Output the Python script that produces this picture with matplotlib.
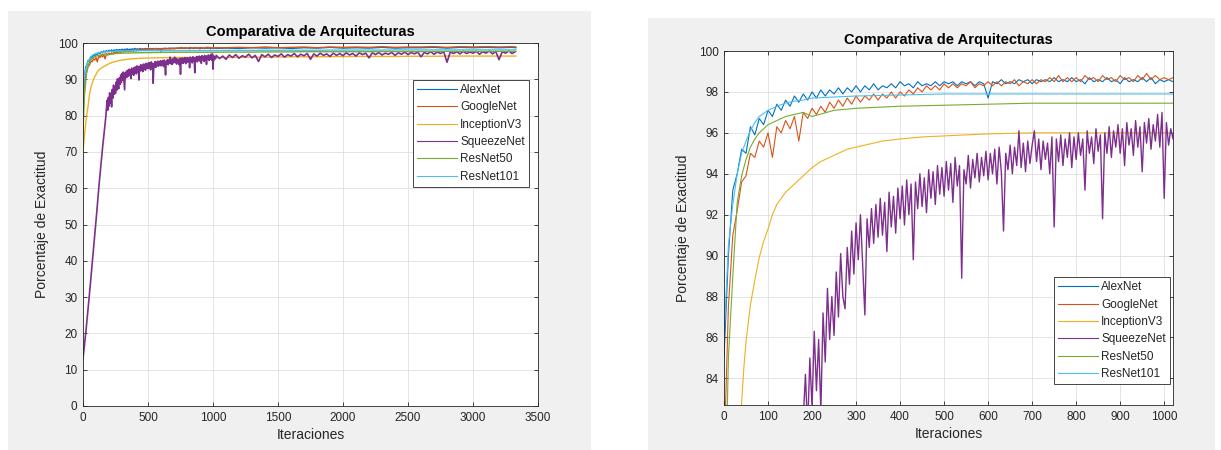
import matplotlib.pyplot as plt
from matplotlib.patches import Rectangle

plt.rcParams["font.family"] = ["Liberation Sans", "DejaVu Sans"]

TITLE = "Comparativa de Arquitecturas"
X_LABEL = "Iteraciones"
Y_LABEL = "Porcentaje de Exactitud"

NAMES = ["AlexNet", "GoogleNet", "InceptionV3", "SqueezeNet", "ResNet50", "ResNet101"]
COLORS = {
    "AlexNet": "#0072BD",
    "GoogleNet": "#D95319",
    "InceptionV3": "#EDB120",
    "SqueezeNet": "#7E2F8E",
    "ResNet50": "#77AC30",
    "ResNet101": "#4DBEEE",
}
TEXT_COLOR = "#262626"

# iteration grids
FINE_ITERS = list(range(0, 1021, 10))
TAIL_ITERS = list(range(1100, 3301, 100)) + [3330]

# AlexNet, read every 10 iterations up to 1020
ALEXNET_FINE = [
    85.0, 90.0, 93.2, 94.0, 95.2, 95.0, 96.3, 95.9, 96.7, 96.4,
    97.1, 96.8, 97.4, 97.1, 97.6, 97.3, 97.8, 97.5, 97.9, 97.6,
    98.0, 97.7, 98.1, 97.8, 98.1, 97.9, 98.2, 97.9, 98.2, 98.0,
    98.3, 98.0, 98.3, 98.1, 98.4, 98.1, 98.3, 98.2, 98.4, 98.2,
    98.5, 98.3, 98.4, 98.2, 98.5, 98.3, 98.4, 98.3, 98.5, 98.3,
    98.5, 98.4, 98.5, 98.3, 98.5, 98.4, 98.5, 98.3, 98.5, 98.4,
    97.7, 98.5, 98.4, 98.6, 98.4, 98.5, 98.4, 98.6, 98.5, 98.6,
    98.4, 98.6, 98.5, 98.6, 98.5, 98.7, 98.5, 98.6, 98.5, 98.7,
    98.5, 98.6, 98.4, 98.7, 98.5, 98.6, 98.5, 98.7, 98.5, 98.6,
    98.4, 98.7, 98.5, 98.6, 98.5, 98.7, 98.5, 98.7, 98.4, 98.6,
    98.5, 98.6, 98.5,
]
ALEXNET_TAIL = [
    98.6, 98.5, 98.7, 98.6, 98.7, 98.5, 98.7, 98.6, 98.8, 98.6, 98.7, 98.6,
    98.8, 98.6, 98.7, 98.7, 98.8, 98.6, 98.8, 98.7, 98.8, 98.7, 98.8, 98.7,
]

GOOGLENET_FINE = [
    80.0, 87.5, 91.0, 92.2, 93.6, 93.9, 95.0, 94.8, 95.6, 95.3,
    96.0, 94.8, 96.3, 96.0, 96.6, 96.2, 96.8, 95.6, 97.0, 96.7,
    97.2, 96.9, 97.3, 97.0, 97.5, 97.2, 97.6, 97.3, 97.7, 97.4,
    97.8, 97.5, 97.8, 97.6, 97.9, 97.6, 97.9, 97.7, 98.0, 97.7,
    98.0, 97.8, 98.1, 97.9, 98.2, 98.0, 98.3, 98.1, 98.3, 98.1,
    98.4, 98.2, 98.4, 98.2, 98.4, 98.3, 98.5, 98.2, 98.4, 98.3,
    98.5, 98.3, 98.5, 98.3, 98.5, 98.4, 98.6, 98.3, 98.5, 98.4,
    98.6, 98.4, 98.6, 98.5, 98.7, 98.5, 98.8, 98.5, 98.7, 98.5,
    98.7, 98.5, 98.8, 98.6, 98.7, 98.5, 98.8, 98.6, 98.7, 98.5,
    98.8, 98.6, 98.7, 98.5, 98.8, 98.6, 98.9, 98.6, 98.8, 98.6,
    98.7, 98.6, 98.7,
]
GOOGLENET_TAIL = [
    98.7, 98.8, 98.7, 98.9, 98.7, 98.8, 98.9, 98.7, 98.9, 98.8, 98.9, 98.8,
    99.0, 98.8, 98.9, 98.9, 99.0, 98.8, 99.0, 98.9, 99.0, 98.9, 99.0, 98.9,
]

INCEPTION_ITERS = [0, 10, 20, 30, 40, 45, 50, 60, 70, 80, 90, 100, 110, 120,
                   140, 160, 180, 200, 220, 250, 280, 320, 360, 400, 450, 500,
                   600, 700, 800, 900, 1020]
INCEPTION_VALUES = [70.0, 74.0, 77.5, 80.5, 82.8, 84.5, 85.8, 87.6, 88.8, 89.9,
                    90.7, 91.3, 92.0, 92.5, 93.1, 93.5, 93.9, 94.3, 94.6, 94.9,
                    95.2, 95.4, 95.6, 95.7, 95.8, 95.85, 95.95, 96.0, 96.0, 96.0,
                    96.0]
INCEPTION_TAIL = [
    96.0, 96.05, 96.1, 96.1, 96.15, 96.2, 96.2, 96.2, 96.25, 96.25, 96.3, 96.3,
    96.3, 96.3, 96.35, 96.35, 96.35, 96.4, 96.4, 96.4, 96.4, 96.4, 96.4, 96.4,
]

# SqueezeNet: coarse start, then every 5 iterations, then every 25
SQUEEZE_START_ITERS = [0, 25, 50, 75, 100, 125, 150, 175]
SQUEEZE_START = [13.0, 21.5, 31.0, 41.0, 51.0, 61.5, 71.0, 79.5]
SQUEEZE_FINE_ITERS = list(range(180, 1021, 5))
SQUEEZE_FINE = [
    82.0, 84.2, 81.5, 85.0, 82.6, 86.3, 83.4, 85.9, 82.4, 87.2,
    84.8, 88.4, 85.9, 88.0, 86.1, 89.2, 87.0, 90.1, 88.0, 87.4,
    90.4, 88.6, 91.2, 89.1, 91.6, 89.8, 92.0, 89.5, 87.1, 91.8,
    90.4, 92.3, 90.6, 92.5, 90.9, 92.8, 91.0, 92.6, 90.2, 93.1,
    91.4, 92.9, 91.1, 93.3, 91.8, 93.4, 91.5, 93.7, 92.0, 93.5,
    89.8, 93.6, 92.3, 94.0, 92.4, 93.8, 92.1, 94.2, 92.8, 94.1,
    92.5, 94.4, 93.0, 94.3, 92.9, 94.6, 93.2, 94.5, 92.6, 94.8,
    93.4, 94.4, 88.9, 94.2, 93.5, 94.9, 93.3, 94.7, 93.8, 95.0,
    93.6, 94.8, 93.9, 95.1, 93.7, 95.0, 94.0, 95.2, 93.5, 95.3,
    94.1, 91.2, 95.0, 94.2, 95.4, 94.0, 95.3, 94.4, 96.1, 94.3,
    95.5, 94.1, 95.6, 94.5, 95.4, 96.1, 94.6, 95.7, 94.2, 95.6,
    94.7, 95.5, 94.0, 95.8, 91.4, 95.7, 94.6, 95.9, 94.4, 95.7,
    94.8, 96.0, 94.3, 95.8, 94.7, 96.0, 94.9, 95.7, 93.2, 96.1,
    95.0, 95.8, 94.5, 96.2, 95.1, 95.9, 91.8, 96.0, 95.0, 96.3,
    94.8, 96.1, 95.3, 96.4, 95.0, 96.2, 94.4, 96.5, 95.4, 96.2,
    94.9, 96.6, 95.3, 96.3, 94.1, 96.5, 95.5, 96.7, 95.2, 96.4,
    95.6, 96.9, 95.3, 97.0, 92.8, 96.5, 95.4, 96.2, 95.7,
]
SQUEEZE_TAIL_ITERS = list(range(1025, 3331, 25))
SQUEEZE_TAIL = [
    96.6, 95.7, 96.4, 95.5, 96.7, 96.0, 96.8, 95.8, 96.5, 96.1,
    96.9, 95.9, 96.6, 94.9, 96.8, 96.2, 96.9, 96.0, 96.7, 96.3,
    97.0, 96.1, 96.8, 96.4, 97.1, 96.2, 96.9, 96.5, 97.1, 95.5,
    97.0, 96.4, 97.2, 96.6, 97.0, 96.3, 97.2, 96.6, 97.1, 96.5,
    97.3, 96.7, 97.1, 96.4, 97.3, 96.8, 97.2, 95.9, 97.3, 96.8,
    97.4, 96.7, 97.2, 96.9, 97.4, 96.6, 97.3, 96.9, 97.5, 96.8,
    97.4, 97.0, 97.5, 96.2, 97.4, 97.0, 97.6, 96.9, 97.5, 97.1,
    97.6, 94.7, 97.5, 97.1, 97.6, 97.0, 97.7, 97.1, 97.5, 97.2,
    97.7, 96.9, 97.6, 97.2, 97.8, 97.0, 97.7, 95.4, 97.6, 97.2,
    97.8, 97.1, 97.6,
]

RESNET50_ITERS = [0, 10, 20, 30, 40, 50, 60, 70, 80, 90, 100, 120, 140, 160,
                  180, 200, 250, 300, 350, 400, 500, 600, 700, 800, 900, 1020]
RESNET50_VALUES = [75.0, 85.0, 89.0, 92.6, 93.9, 94.7, 95.3, 95.7, 96.0, 96.2,
                   96.4, 96.6, 96.8, 96.9, 97.0, 96.8, 97.1, 97.2, 97.25, 97.3,
                   97.35, 97.4, 97.45, 97.45, 97.45, 97.45]
RESNET50_TAIL = [
    97.5, 97.5, 97.5, 97.55, 97.55, 97.55, 97.6, 97.6, 97.6, 97.6, 97.6, 97.6,
    97.65, 97.65, 97.65, 97.65, 97.65, 97.7, 97.7, 97.7, 97.7, 97.7, 97.7, 97.7,
]

RESNET101_ITERS = [0, 10, 20, 30, 40, 50, 60, 70, 80, 100, 120, 140, 160, 180,
                   200, 250, 300, 400, 500, 600, 1020]
RESNET101_VALUES = [86.0, 90.5, 92.5, 94.0, 95.0, 95.6, 96.1, 96.5, 96.8, 97.1,
                    97.3, 97.45, 97.55, 97.6, 97.7, 97.75, 97.8, 97.85, 97.9,
                    97.9, 97.9]
RESNET101_TAIL = [
    97.95, 97.95, 97.95, 98.0, 98.0, 98.0, 98.0, 98.0, 98.05, 98.05, 98.05, 98.05,
    98.05, 98.1, 98.1, 98.1, 98.1, 98.1, 98.1, 98.1, 98.1, 98.1, 98.1, 98.1,
]

SERIES = {
    "AlexNet": (FINE_ITERS + TAIL_ITERS, ALEXNET_FINE + ALEXNET_TAIL),
    "GoogleNet": (FINE_ITERS + TAIL_ITERS, GOOGLENET_FINE + GOOGLENET_TAIL),
    "InceptionV3": (INCEPTION_ITERS + TAIL_ITERS, INCEPTION_VALUES + INCEPTION_TAIL),
    "SqueezeNet": (SQUEEZE_START_ITERS + SQUEEZE_FINE_ITERS + SQUEEZE_TAIL_ITERS,
                   SQUEEZE_START + SQUEEZE_FINE + SQUEEZE_TAIL),
    "ResNet50": (RESNET50_ITERS + TAIL_ITERS, RESNET50_VALUES + RESNET50_TAIL),
    "ResNet101": (RESNET101_ITERS + TAIL_ITERS, RESNET101_VALUES + RESNET101_TAIL),
}


def draw_panel(ax, xlim, ylim, xticks, yticks, legend_loc, legend_anchor, lw):
    for name in NAMES:
        x, y = SERIES[name]
        width = lw + 0.2 if name == "SqueezeNet" else lw
        ax.plot(x, y, color=COLORS[name], lw=width, label=name)

    ax.set_xlim(*xlim)
    ax.set_ylim(*ylim)
    ax.set_xticks(xticks)
    ax.set_yticks(yticks)
    ax.grid(True, color="#DFDFDF", lw=0.6)
    ax.set_axisbelow(True)
    ax.tick_params(direction="in", length=3, width=0.6, top=True, right=True,
                   labelsize=8.5, colors=TEXT_COLOR, pad=4)
    for spine in ax.spines.values():
        spine.set_color(TEXT_COLOR)
        spine.set_linewidth(0.6)

    ax.set_title(TITLE, fontsize=10.5, fontweight="bold", color="black", pad=5)
    ax.set_xlabel(X_LABEL, fontsize=10, color=TEXT_COLOR, labelpad=3)
    ax.set_ylabel(Y_LABEL, fontsize=10, color=TEXT_COLOR, labelpad=6)

    leg = ax.legend(
        loc=legend_loc,
        bbox_to_anchor=legend_anchor,
        fontsize=8.5,
        handlelength=3.4,
        handletextpad=0.25,
        labelspacing=0.45,
        borderpad=0.35,
        borderaxespad=0,
        fancybox=False,
        framealpha=1,
    )
    leg.get_frame().set_edgecolor(TEXT_COLOR)
    leg.get_frame().set_linewidth(0.6)
    for text in leg.get_texts():
        text.set_color(TEXT_COLOR)
    for line in leg.get_lines():
        line.set_linewidth(0.8)


fig = plt.figure(figsize=(12.21, 4.5), dpi=100)
fig.patch.set_facecolor("white")

# grey figure backgrounds of the two panels
for left, width, height in [(8, 583, 439), (648, 567, 432)]:
    fig.add_artist(Rectangle((left / 1221, 0), width / 1221, height / 450,
                             transform=fig.transFigure, facecolor="#F0F0F0",
                             edgecolor="none", zorder=-10))

ax_full = fig.add_axes([83 / 1221, 44 / 450, 455 / 1221, 363 / 450])
ax_zoom = fig.add_axes([724 / 1221, 45 / 450, 449 / 1221, 354 / 450])

draw_panel(ax_full, (0, 3500), (0, 100), range(0, 3501, 500), range(0, 101, 10),
           "upper right", (0.98, 0.898), 1.0)
draw_panel(ax_zoom, (0, 1020), (82.7, 100), range(0, 1001, 100), range(84, 101, 2),
           "lower right", (0.993, 0.059), 0.8)

fig.savefig("out.png", dpi=100)
